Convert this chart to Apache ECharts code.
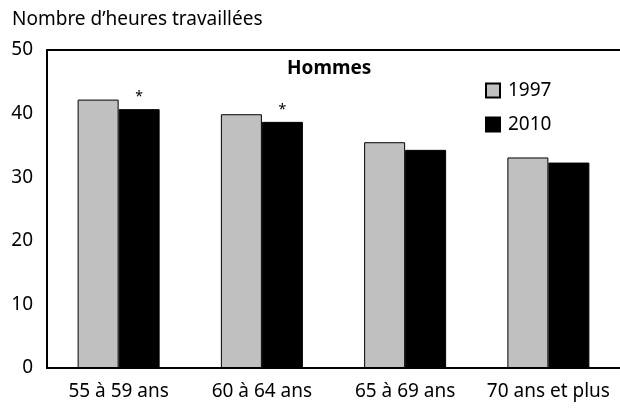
<!DOCTYPE html>
<html>
<head>
<meta charset="utf-8">
<script src="https://cdn.jsdelivr.net/npm/echarts@6/dist/echarts.min.js"></script>
<style>
  html, body { margin: 0; padding: 0; background: #fff; }
  #chart { width: 620px; height: 415px; }
</style>
</head>
<body>
<div id="chart"></div>
<script>
const categories = ['55 à 59 ans', '60 à 64 ans', '65 à 69 ans', '70 ans et plus'];
const values1997 = [42.2, 39.9, 35.5, 33.1];
const values2010 = [40.7, 38.7, 34.3, 32.3];
const marks2010 = ['*', '*', '', ''];
const yTicks = [0, 10, 20, 30, 40, 50];

const font = 'Noto Sans';
const myChart = echarts.init(document.getElementById('chart'), null, { renderer: 'canvas' });

const option = {
  animation: false,
  textStyle: { fontFamily: font, color: '#000' },
  title: {
    text: 'Nombre d\u2019heures travaillées',
    left: 7,
    top: 5,
    textStyle: { fontFamily: font, fontSize: 19, fontWeight: 'normal', color: '#000' }
  },
  graphic: [{
    type: 'text',
    left: 287,
    top: 59,
    style: { text: 'Hommes', font: 'bold 19px "Noto Sans"', fill: '#000' }
  }],
  legend: {
    orient: 'vertical',
    left: 480,
    top: 76,
    itemWidth: 14,
    itemHeight: 14,
    itemGap: 15,
    icon: 'rect',
    textStyle: { fontFamily: font, fontSize: 19, color: '#000', padding: [0, 0, 0, 3] },
    data: ['1997', '2010']
  },
  grid: { left: 47, right: -5, top: 50, bottom: 47, containLabel: false },
  xAxis: [{
    type: 'category',
    data: categories,
    axisLine: { lineStyle: { color: '#000', width: 2 } },
    axisTick: { show: false },
    axisLabel: { fontFamily: font, fontSize: 19, color: '#000', margin: 14, interval: 0 }
  }, {
    type: 'category',
    position: 'top',
    data: categories,
    axisLine: { onZero: false, lineStyle: { color: '#000', width: 2 } },
    axisTick: { show: false },
    axisLabel: { show: false }
  }],
  yAxis: {
    type: 'value',
    min: yTicks[0],
    max: yTicks[yTicks.length - 1],
    interval: 10,
    axisLine: { show: true, lineStyle: { color: '#000', width: 2 } },
    axisTick: { show: false },
    splitLine: { show: false },
    axisLabel: { fontFamily: font, fontSize: 19, color: '#000', margin: 14 }
  },
  series: [{
    name: '1997',
    type: 'bar',
    data: values1997,
    barWidth: 41,
    barGap: '0%',
    itemStyle: { color: '#c0c0c0', borderColor: '#000', borderWidth: 1 }
  }, {
    name: '2010',
    type: 'bar',
    data: values2010,
    barWidth: 41,
    barGap: '0%',
    itemStyle: { color: '#000', borderColor: '#000', borderWidth: 1 },
    label: {
      show: true,
      position: 'top',
      distance: 5,
      fontFamily: font,
      fontSize: 14,
      color: '#000',
      formatter: p => marks2010[p.dataIndex]
    }
  }]
};

myChart.setOption(option);
window.addEventListener('resize', myChart.resize);
</script>
</body>
</html>
